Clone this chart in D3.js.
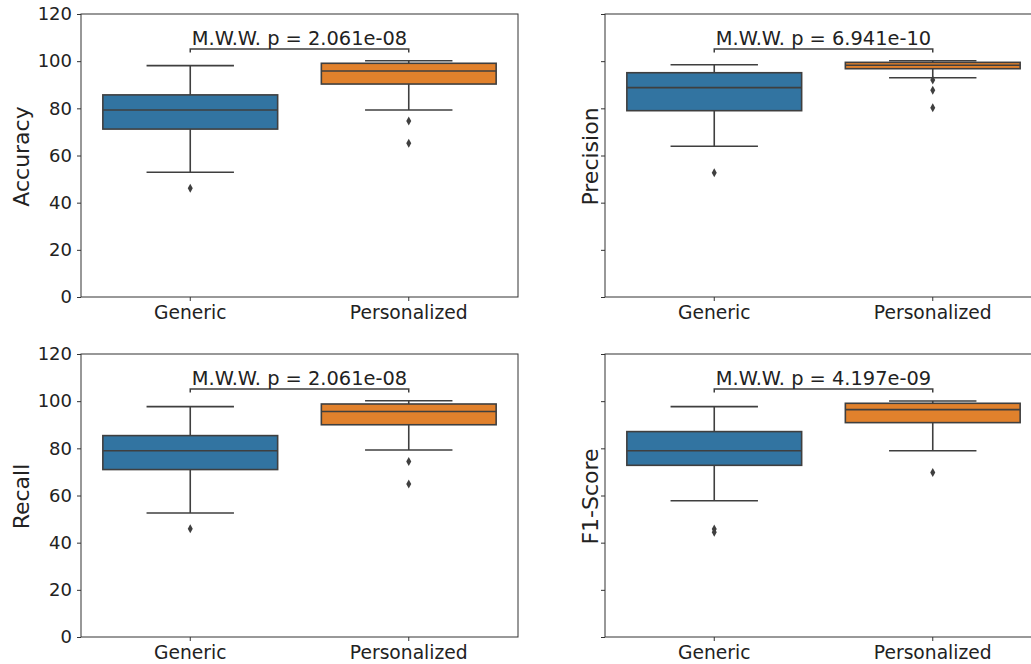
<!DOCTYPE html>
<html>
<head>
<meta charset="utf-8">
<script src="https://cdn.jsdelivr.net/npm/d3@7"></script>
<style>
  body { margin: 0; background: #fff; }
  svg { display: block; }
  svg text { font-family: "DejaVu Sans", sans-serif; }
</style>
</head>
<body>
<script>
// categories and metric names
const categories = ["Generic", "Personalized"];
const metricNames = ["Accuracy", "Precision", "Recall", "F1-Score"];
const pValues = ["2.061e-08", "6.941e-10", "2.061e-08", "4.197e-09"];
const yTicks = [0, 20, 40, 60, 80, 100, 120];

// box stats: [lower whisker, q1, median, q3, upper whisker] per category
const accuracyStats = [[52.9, 71.2, 79.3, 85.7, 98.1], [79.3, 90.3, 95.8, 99.1, 100.2]];
const accuracyOutliers = [[46.1], [74.6, 65.2]];
const precisionStats = [[63.9, 79.0, 88.8, 95.1, 98.5], [93.0, 96.8, 98.3, 99.5, 100.2]];
const precisionOutliers = [[52.7], [92.0, 87.7, 80.3]];
const recallStats = [[52.6, 71.0, 79.0, 85.4, 97.7], [79.3, 90.0, 95.6, 98.8, 100.2]];
const recallOutliers = [[45.9], [74.4, 64.9]];
const f1Stats = [[57.8, 72.8, 79.0, 87.1, 97.7], [79.0, 90.9, 96.4, 99.1, 100.1]];
const f1Outliers = [[45.8, 44.4], [69.8]];

const allStats = [accuracyStats, precisionStats, recallStats, f1Stats];
const allOutliers = [accuracyOutliers, precisionOutliers, recallOutliers, f1Outliers];

const w = 1031, h = 664;
const colors = ["#3274a1", "#e1812c"];
const lineColor = "#3f3f3f";
const font = "DejaVu Sans";

// axes boxes [left, top, width, height]
const panels = [
  [81, 14, 437, 283],
  [605, 14, 437, 283],
  [81, 354, 437, 283],
  [605, 354, 437, 283]
];

const svg = d3.select("body").append("svg")
  .attr("width", w)
  .attr("height", h);

panels.forEach(function (p, i) {
  const [left, top, pw, ph] = p;
  const g = svg.append("g").attr("transform", "translate(" + left + "," + top + ")");

  const x = d3.scaleBand().domain(categories).range([0, pw]).padding(0);
  const y = d3.scaleLinear().domain([0, 120]).range([ph, 0]);
  const boxW = x.bandwidth() * 0.8;
  const capW = boxW / 2;

  // y axis (labels only on left column)
  const yAxis = d3.axisLeft(y).tickValues(yTicks).tickSize(4).tickPadding(5);
  if (i % 2 === 1) yAxis.tickFormat("");
  const ya = g.append("g").call(yAxis).attr("font-family", font);
  ya.select(".domain").remove();
  ya.selectAll("line").attr("stroke", "#333");
  ya.selectAll("text").attr("font-size", 18).attr("fill", "#222");

  const xAxis = d3.axisBottom(x).tickSize(4).tickPadding(5);
  const xa = g.append("g").attr("transform", "translate(0," + ph + ")").call(xAxis).attr("font-family", font);
  xa.select(".domain").remove();
  xa.selectAll("line").attr("stroke", "#333");
  xa.selectAll("text").attr("font-size", 18.7).attr("fill", "#222");

  // frame
  g.append("rect")
    .attr("x", 0).attr("y", 0)
    .attr("width", pw).attr("height", ph)
    .attr("fill", "none")
    .attr("stroke", "#333")
    .attr("stroke-width", 1);

  // y label
  g.append("text")
    .attr("transform", "translate(" + (i % 2 === 0 ? -52 : -7) + "," + (ph / 2 + 1) + ") rotate(-90)")
    .attr("text-anchor", "middle")
    .attr("font-family", font)
    .attr("font-size", 22)
    .attr("fill", "#222")
    .text(metricNames[i]);

  const stats = allStats[i];
  const outl = allOutliers[i];

  categories.forEach(function (c, j) {
    const cx = x(c) + x.bandwidth() / 2;
    const s = stats[j];
    const bg = g.append("g");

    // whiskers
    bg.append("line")
      .attr("x1", cx).attr("x2", cx)
      .attr("y1", y(s[0])).attr("y2", y(s[1]))
      .attr("stroke", lineColor).attr("stroke-width", 1.6);
    bg.append("line")
      .attr("x1", cx).attr("x2", cx)
      .attr("y1", y(s[3])).attr("y2", y(s[4]))
      .attr("stroke", lineColor).attr("stroke-width", 1.6);
    [s[0], s[4]].forEach(function (v) {
      bg.append("line")
        .attr("x1", cx - capW / 2).attr("x2", cx + capW / 2)
        .attr("y1", y(v)).attr("y2", y(v))
        .attr("stroke", lineColor).attr("stroke-width", 1.6);
    });

    // box
    bg.append("rect")
      .attr("x", cx - boxW / 2)
      .attr("y", y(s[3]))
      .attr("width", boxW)
      .attr("height", y(s[1]) - y(s[3]))
      .attr("fill", colors[j])
      .attr("stroke", lineColor)
      .attr("stroke-width", 1.6);

    // median
    bg.append("line")
      .attr("x1", cx - boxW / 2).attr("x2", cx + boxW / 2)
      .attr("y1", y(s[2])).attr("y2", y(s[2]))
      .attr("stroke", lineColor).attr("stroke-width", 1.6);

    // outliers, thin diamonds
    bg.selectAll("path.flier")
      .data(outl[j])
      .enter()
      .append("path")
      .attr("class", "flier")
      .attr("d", function (v) {
        const yy = y(v);
        return "M" + cx + "," + (yy - 4.5) + "L" + (cx + 2.5) + "," + yy +
          "L" + cx + "," + (yy + 4.5) + "L" + (cx - 2.5) + "," + yy + "Z";
      })
      .attr("fill", lineColor);
  });

  // significance bracket
  const x1 = x(categories[0]) + x.bandwidth() / 2;
  const x2 = x(categories[1]) + x.bandwidth() / 2;
  const yb = y(105.2), yt = y(103.7);
  g.append("path")
    .attr("d", "M" + x1 + "," + yt + "L" + x1 + "," + yb + "L" + x2 + "," + yb + "L" + x2 + "," + yt)
    .attr("fill", "none")
    .attr("stroke", lineColor)
    .attr("stroke-width", 1.5);

  g.append("text")
    .attr("x", (x1 + x2) / 2)
    .attr("y", yb - 4)
    .attr("text-anchor", "middle")
    .attr("font-family", font)
    .attr("font-size", 19.4)
    .attr("fill", "#222")
    .text("M.W.W. p = " + pValues[i]);
});
</script>
</body>
</html>
